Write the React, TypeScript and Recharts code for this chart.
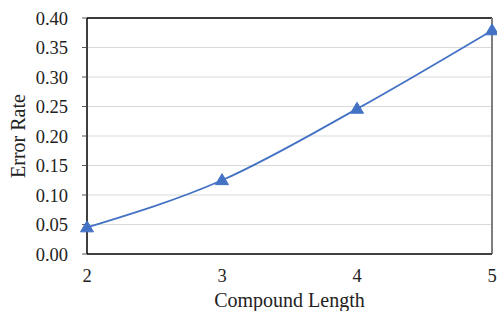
import React from "react";
import { LineChart, Line, XAxis, YAxis, CartesianGrid, ReferenceLine, Label } from "recharts";

const compoundLengths = [2, 3, 4, 5];
const errorRates = [0.045, 0.125, 0.246, 0.379];
const yTicks = [0, 0.05, 0.1, 0.15, 0.2, 0.25, 0.3, 0.35, 0.4];
const xTicks = [2, 3, 4, 5];

const data = compoundLengths.map((x, i) => ({ x, y: errorRates[i] }));

const FONT = "'Liberation Serif', 'Times New Roman', serif";
const BLUE = "#4472C4";

const Triangle = (props: any) => {
  const { cx, cy } = props;
  if (cx == null || cy == null) return null;
  const w = 6.5;
  const h = 11;
  return (
    <polygon
      key={`t-${cx}`}
      points={`${cx},${cy - h * 0.6} ${cx + w},${cy + h * 0.4} ${cx - w},${cy + h * 0.4}`}
      fill={BLUE}
      stroke={BLUE}
    />
  );
};

export default function App() {
  return (
    <div style={{ position: "absolute", left: 0, top: 0, width: 497, height: 311, background: "#fff" }}>
      <LineChart width={497} height={311} data={data} margin={{ top: 18, right: 5, bottom: 0, left: 0 }}>
        <CartesianGrid vertical={false} stroke="#d9d9d9" strokeWidth={1} />
        <XAxis
          dataKey="x"
          type="number"
          domain={[2, 5]}
          ticks={xTicks}
          tickLine={false}
          axisLine={{ stroke: "#404040", strokeWidth: 2 }}
          tick={{ fontFamily: FONT, fontSize: 18.5, fill: "#222" }}
          tickMargin={9}
          height={57}
        >
          <Label value="Compound Length" position="insideBottom" offset={4} style={{ fontFamily: FONT, fontSize: 20, fill: "#222" }} />
        </XAxis>
        <YAxis
          type="number"
          domain={[0, 0.4]}
          ticks={yTicks}
          tickFormatter={(v: number) => v.toFixed(2)}
          tickSize={5}
          tickLine={{ stroke: "#595959" }}
          axisLine={{ stroke: "#000", strokeWidth: 1.5 }}
          tick={{ fontFamily: FONT, fontSize: 18.5, fill: "#222" }}
          tickMargin={14}
          width={87}
        >
          <Label value="Error Rate" angle={-90} position="insideLeft" offset={18} style={{ fontFamily: FONT, fontSize: 20, fill: "#222", textAnchor: "middle" }} />
        </YAxis>
        <ReferenceLine y={0.4} stroke="#000" strokeWidth={1.5} />
        <ReferenceLine x={5} stroke="#7f7f7f" strokeWidth={2} />
        <Line
          dataKey="y"
          type="monotone"
          stroke={BLUE}
          strokeWidth={1.75}
          dot={<Triangle />}
          activeDot={false}
          isAnimationActive={false}
        />
      </LineChart>
    </div>
  );
}
